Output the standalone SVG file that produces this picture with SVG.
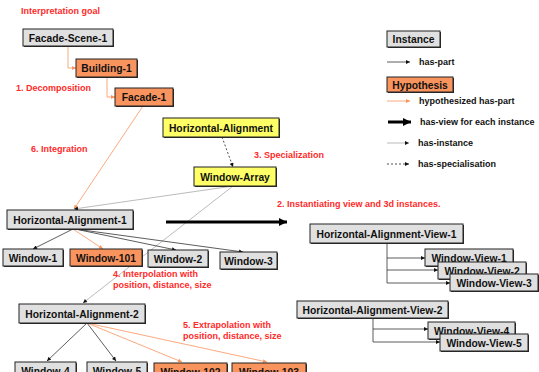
<svg xmlns="http://www.w3.org/2000/svg" width="539" height="372" viewBox="0 0 539 372">
<style>
text{font-family:"Liberation Sans",Arial,sans-serif;font-weight:bold}
.n{font-size:10.3px;fill:#111;text-anchor:middle}
.lab{font-size:9px;fill:#ff2a2a}
.leg{font-size:9px;fill:#111}
.sh{fill:#2a2a2a}
.g{fill:#e0e0e0;stroke:#222;stroke-width:1}
.o{fill:#f9945f;stroke:#222;stroke-width:1}
.y{fill:#ffff66;stroke:#222;stroke-width:1}
.part{stroke:#333;stroke-width:0.8;fill:none;marker-end:url(#ak)}
.hyp{stroke:#f9a070;stroke-width:0.9;fill:none;marker-end:url(#ao)}
.inst{stroke:#aaa;stroke-width:0.8;fill:none;marker-end:url(#ak)}
.spec{stroke:#222;stroke-width:0.8;stroke-dasharray:2,2;fill:none;marker-end:url(#ak)}
.view{stroke:#000;stroke-width:3;fill:none;marker-end:url(#abig)}
.tree{stroke:#333;stroke-width:0.8;fill:none}
</style>
<defs>
<marker id="ak" viewBox="0 0 10 10" refX="10" refY="5" markerWidth="5" markerHeight="4" markerUnits="userSpaceOnUse" orient="auto"><path d="M0,0L10,5L0,10z" fill="#111"/></marker>
<marker id="ao" viewBox="0 0 10 10" refX="10" refY="5" markerWidth="5" markerHeight="4" markerUnits="userSpaceOnUse" orient="auto"><path d="M0,0L10,5L0,10z" fill="#f9945f"/></marker>
<marker id="abig" viewBox="0 0 10 10" refX="10" refY="5" markerWidth="9" markerHeight="8" markerUnits="userSpaceOnUse" orient="auto"><path d="M0,0L10,5L0,10z" fill="#000"/></marker>
</defs>
<rect width="539" height="372" fill="#fff"/>

<g id="connectors">
<path class="hyp" d="M68,46V68H76"/>
<path class="hyp" d="M107,77V97H115"/>
<path class="hyp" d="M143,106L74,209"/>
<path class="spec" d="M222,137L233,167"/>
<path class="inst" d="M233,186L74,209"/>
<path class="inst" d="M233,186L83,303"/>
<path class="view" d="M166,222H287"/>
<path class="part" d="M73,229L33,249"/>
<path class="hyp" d="M73,229L103,249"/>
<path class="part" d="M75,229L176,250"/>
<path class="part" d="M75,229L243,252"/>
<path class="part" d="M87,323L47,361"/>
<path class="part" d="M87,323L116,361"/>
<path class="hyp" d="M87,323L182,362"/>
<path class="hyp" d="M87,323L267,362"/>
<path class="tree" d="M387,243V283"/>
<path class="part" d="M387,258H425"/>
<path class="part" d="M387,270H438"/>
<path class="part" d="M387,283H450"/>
<path class="tree" d="M373,318V342"/>
<path class="part" d="M373,329H428"/>
<path class="part" d="M373,342H440"/>
</g>

<g id="labels">
<text class="lab" x="21" y="14">Interpretation goal</text>
<text class="lab" x="16" y="91">1. Decomposition</text>
<text class="lab" x="31" y="152">6. Integration</text>
<text class="lab" x="254" y="158">3. Specialization</text>
<text class="lab" x="277" y="207">2. Instantiating view and 3d instances.</text>
<text class="lab" x="113" y="277">4. Interpolation with</text>
<text class="lab" x="113" y="288">position, distance, size</text>
<text class="lab" x="183" y="328">5. Extrapolation with</text>
<text class="lab" x="183" y="339">position, distance, size</text>
</g>

<g id="facade-scene-1"><rect class="sh" x="24" y="30" width="90" height="17"/><rect class="g" x="23" y="29" width="90" height="17"/><text class="n" x="68" y="42">Facade-Scene-1</text></g>
<g id="building-1"><rect class="sh" x="77" y="60" width="61" height="18"/><rect class="o" x="76" y="59" width="61" height="18"/><text class="n" x="106.5" y="72">Building-1</text></g>
<g id="facade-1"><rect class="sh" x="116" y="89" width="58" height="18"/><rect class="o" x="115" y="88" width="58" height="18"/><text class="n" x="144" y="101">Facade-1</text></g>
<g id="horizontal-alignment"><rect class="sh" x="164" y="119" width="116" height="19"/><rect class="y" x="163" y="118" width="116" height="19"/><text class="n" x="221" y="131.5">Horizontal-Alignment</text></g>
<g id="window-array"><rect class="sh" x="195" y="168" width="82" height="19"/><rect class="y" x="194" y="167" width="82" height="19"/><text class="n" x="235" y="180.5">Window-Array</text></g>
<g id="horizontal-alignment-1"><rect class="sh" x="8" y="211" width="126" height="19"/><rect class="g" x="7" y="210" width="126" height="19"/><text class="n" x="70" y="223.5">Horizontal-Alignment-1</text></g>
<g id="window-1"><rect class="sh" x="4" y="250" width="60" height="17"/><rect class="g" x="3" y="249" width="60" height="17"/><text class="n" x="33" y="261.5">Window-1</text></g>
<g id="window-101"><rect class="sh" x="71" y="250" width="72" height="17"/><rect class="o" x="70" y="249" width="72" height="17"/><text class="n" x="106" y="261.5">Window-101</text></g>
<g id="window-2"><rect class="sh" x="149" y="251" width="60" height="17"/><rect class="g" x="148" y="250" width="60" height="17"/><text class="n" x="178" y="262.5">Window-2</text></g>
<g id="window-3"><rect class="sh" x="221" y="253" width="57" height="17"/><rect class="g" x="220" y="252" width="57" height="17"/><text class="n" x="248.5" y="264.5">Window-3</text></g>
<g id="horizontal-alignment-2"><rect class="sh" x="20" y="305" width="126" height="19"/><rect class="g" x="19" y="304" width="126" height="19"/><text class="n" x="82" y="317.5">Horizontal-Alignment-2</text></g>
<g id="window-4"><rect class="sh" x="16" y="363" width="61" height="17"/><rect class="g" x="15" y="362" width="61" height="17"/><text class="n" x="45.5" y="375">Window-4</text></g>
<g id="window-5"><rect class="sh" x="88" y="363" width="60" height="17"/><rect class="g" x="87" y="362" width="60" height="17"/><text class="n" x="117" y="375">Window-5</text></g>
<g id="window-102"><rect class="sh" x="155" y="364" width="73" height="17"/><rect class="o" x="154" y="363" width="73" height="17"/><text class="n" x="190.5" y="376">Window-102</text></g>
<g id="window-103"><rect class="sh" x="233" y="364" width="74" height="17"/><rect class="o" x="232" y="363" width="74" height="17"/><text class="n" x="269" y="376">Window-103</text></g>

<g id="horizontal-alignment-view-1"><rect class="sh" x="311" y="225" width="153" height="19"/><rect class="g" x="310" y="224" width="153" height="19"/><text class="n" x="386.5" y="237.5">Horizontal-Alignment-View-1</text></g>
<g id="window-view-1"><rect class="sh" x="426" y="250" width="88" height="17"/><rect class="g" x="425" y="249" width="88" height="17"/><text class="n" x="469" y="261.5">Window-View-1</text></g>
<g id="window-view-2"><rect class="sh" x="439" y="263" width="88" height="17"/><rect class="g" x="438" y="262" width="88" height="17"/><text class="n" x="482" y="274.5">Window-View-2</text></g>
<g id="window-view-3"><rect class="sh" x="451" y="275" width="88" height="17"/><rect class="g" x="450" y="274" width="88" height="17"/><text class="n" x="494" y="286.5">Window-View-3</text></g>
<g id="horizontal-alignment-view-2"><rect class="sh" x="298" y="302" width="151" height="17"/><rect class="g" x="297" y="301" width="151" height="17"/><text class="n" x="372.5" y="313.5">Horizontal-Alignment-View-2</text></g>
<g id="window-view-4"><rect class="sh" x="429" y="323" width="87" height="17"/><rect class="g" x="428" y="322" width="87" height="17"/><text class="n" x="471.5" y="334.5">Window-View-4</text></g>
<g id="window-view-5"><rect class="sh" x="441" y="335" width="88" height="17"/><rect class="g" x="440" y="334" width="88" height="17"/><text class="n" x="484" y="346.5">Window-View-5</text></g>

<g id="legend">
<rect class="sh" x="388" y="32" width="53" height="16"/><rect class="g" x="387" y="31" width="53" height="16"/><text class="n" x="413.5" y="43">Instance</text>
<path class="part" d="M387,62H410"/><text class="leg" x="419" y="65">has-part</text>
<rect class="sh" x="388" y="78" width="66" height="15"/><rect class="o" x="387" y="77" width="66" height="15"/><text class="n" x="420" y="88.5">Hypothesis</text>
<path class="hyp" d="M387,101H410"/><text class="leg" x="419" y="104">hypothesized has-part</text>
<path class="view" d="M388,122H411"/><text class="leg" x="420" y="125">has-view for each instance</text>
<path class="inst" d="M387,143H409"/><text class="leg" x="418" y="146">has-instance</text>
<path class="spec" d="M387,164H409"/><text class="leg" x="418" y="167">has-specialisation</text>
</g>
</svg>
